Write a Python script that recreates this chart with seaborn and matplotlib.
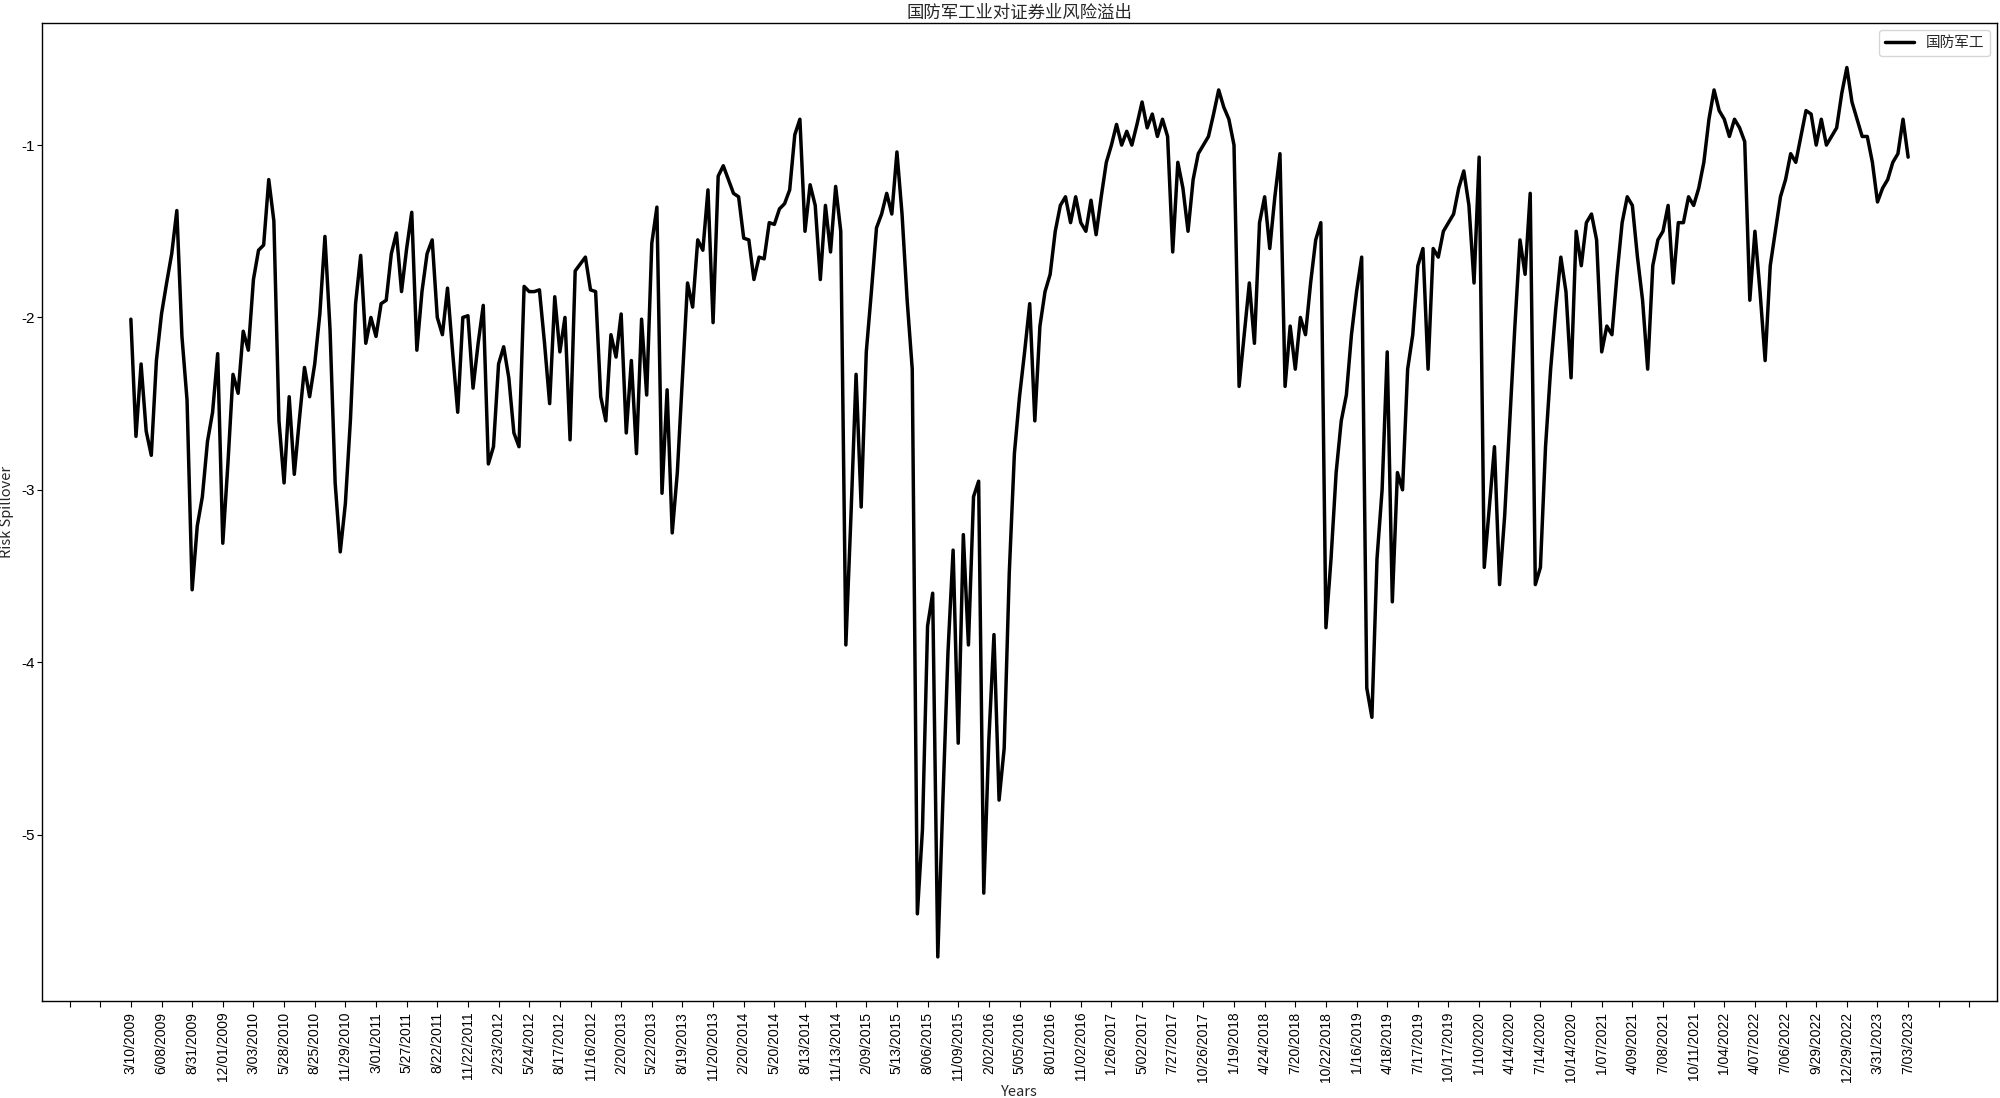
import matplotlib
matplotlib.use("Agg")
import numpy as np
import matplotlib.pyplot as plt
import seaborn as sns
from matplotlib.ticker import MultipleLocator, FuncFormatter

# one reading every 10 trading days, starting 3/10/2009
step = 10
spill = [
    -2.01, -2.69, -2.27, -2.66, -2.80, -2.25, -1.98, -1.80, -1.63, -1.38,
    -2.11, -2.48, -3.58, -3.21, -3.04, -2.72, -2.55, -2.21, -3.31, -2.85,
    -2.33, -2.44, -2.08, -2.19, -1.78, -1.61, -1.58, -1.20, -1.44, -2.60,
    -2.96, -2.46, -2.91, -2.59, -2.29, -2.46, -2.27, -1.98, -1.53, -2.07,
    -2.96, -3.36, -3.08, -2.59, -1.92, -1.64, -2.15, -2.00, -2.11, -1.92,
    -1.90, -1.63, -1.51, -1.85, -1.60, -1.39, -2.19, -1.85, -1.63, -1.55,
    -2.00, -2.10, -1.83, -2.20, -2.55, -2.00, -1.99, -2.41, -2.15, -1.93,
    -2.85, -2.75, -2.27, -2.17, -2.35, -2.67, -2.75, -1.82, -1.85, -1.85,
    -1.84, -2.15, -2.50, -1.88, -2.20, -2.00, -2.71, -1.73, -1.69, -1.65,
    -1.84, -1.85, -2.46, -2.60, -2.10, -2.23, -1.98, -2.67, -2.25, -2.79,
    -2.01, -2.45, -1.57, -1.36, -3.02, -2.42, -3.25, -2.90, -2.35, -1.80,
    -1.94, -1.55, -1.61, -1.26, -2.03, -1.18, -1.12, -1.20, -1.28, -1.30,
    -1.54, -1.55, -1.78, -1.65, -1.66, -1.45, -1.46, -1.37, -1.34, -1.26,
    -0.94, -0.85, -1.50, -1.23, -1.35, -1.78, -1.35, -1.62, -1.24, -1.50,
    -3.90, -3.15, -2.33, -3.10, -2.20, -1.85, -1.48, -1.40, -1.28, -1.40,
    -1.04, -1.40, -1.90, -2.30, -5.46, -4.97, -3.79, -3.60, -5.71, -4.80,
    -3.94, -3.35, -4.47, -3.26, -3.90, -3.04, -2.95, -5.34, -4.45, -3.84,
    -4.80, -4.50, -3.48, -2.79, -2.46, -2.20, -1.92, -2.60, -2.05, -1.85,
    -1.75, -1.50, -1.35, -1.30, -1.45, -1.30, -1.45, -1.50, -1.32, -1.52,
    -1.30, -1.10, -1.00, -0.88, -1.00, -0.92, -1.00, -0.88, -0.75, -0.90,
    -0.82, -0.95, -0.85, -0.95, -1.62, -1.10, -1.25, -1.50, -1.20, -1.05,
    -1.00, -0.95, -0.82, -0.68, -0.78, -0.85, -1.00, -2.40, -2.10, -1.80,
    -2.15, -1.45, -1.30, -1.60, -1.30, -1.05, -2.40, -2.05, -2.30, -2.00,
    -2.10, -1.80, -1.55, -1.45, -3.80, -3.40, -2.90, -2.60, -2.45, -2.10,
    -1.85, -1.65, -4.15, -4.32, -3.40, -3.00, -2.20, -3.65, -2.90, -3.00,
    -2.30, -2.10, -1.70, -1.60, -2.30, -1.60, -1.65, -1.50, -1.45, -1.40,
    -1.25, -1.15, -1.35, -1.80, -1.07, -3.45, -3.10, -2.75, -3.55, -3.15,
    -2.60, -2.05, -1.55, -1.75, -1.28, -3.55, -3.45, -2.75, -2.30, -1.95,
    -1.65, -1.85, -2.35, -1.50, -1.70, -1.45, -1.40, -1.55, -2.20, -2.05,
    -2.10, -1.75, -1.45, -1.30, -1.35, -1.65, -1.90, -2.30, -1.70, -1.55,
    -1.50, -1.35, -1.80, -1.45, -1.45, -1.30, -1.35, -1.25, -1.10, -0.85,
    -0.68, -0.80, -0.85, -0.95, -0.85, -0.90, -0.98, -1.90, -1.50, -1.85,
    -2.25, -1.70, -1.50, -1.30, -1.20, -1.05, -1.10, -0.95, -0.80, -0.82,
    -1.00, -0.85, -1.00, -0.95, -0.90, -0.70, -0.55, -0.75, -0.85, -0.95,
    -0.95, -1.10, -1.33, -1.25, -1.20, -1.10, -1.05, -0.85, -1.07,
]

# date labels, one every 60 trading days
tick_every = 60
date_labels = [
    "3/10/2009", "6/08/2009", "8/31/2009", "12/01/2009", "3/03/2010",
    "5/28/2010", "8/25/2010", "11/29/2010", "3/01/2011", "5/27/2011",
    "8/22/2011", "11/22/2011", "2/23/2012", "5/24/2012", "8/17/2012",
    "11/16/2012", "2/20/2013", "5/22/2013", "8/19/2013", "11/20/2013",
    "2/20/2014", "5/20/2014", "8/13/2014", "11/13/2014", "2/09/2015",
    "5/13/2015", "8/06/2015", "11/09/2015", "2/02/2016", "5/05/2016",
    "8/01/2016", "11/02/2016", "1/26/2017", "5/02/2017", "7/27/2017",
    "10/26/2017", "1/19/2018", "4/24/2018", "7/20/2018", "10/22/2018",
    "1/16/2019", "4/18/2019", "7/17/2019", "10/17/2019", "1/10/2020",
    "4/14/2020", "7/14/2020", "10/14/2020", "1/07/2021", "4/09/2021",
    "7/08/2021", "10/11/2021", "1/04/2022", "4/07/2022", "7/06/2022",
    "9/29/2022", "12/29/2022", "3/31/2023", "7/03/2023",
]

sns.set_style("ticks")
plt.rcParams['font.family'] = ['Liberation Sans', 'Noto Sans CJK SC', 'DejaVu Sans']
plt.rcParams['axes.unicode_minus'] = False
cjk = ['Noto Sans CJK SC', 'DejaVu Sans']

day = np.arange(len(spill)) * step

fig, ax = plt.subplots(figsize=(20, 10.98), dpi=100)
fig.subplots_adjust(left=0.021, right=0.9985, top=0.979, bottom=0.088)

sns.lineplot(x=day, y=spill, color='black', linewidth=2.5, label='国防军工', ax=ax)


def fmt_date(v, pos):
    k = int(round(v / tick_every))
    if abs(v - k * tick_every) < 1e-6 and 0 <= k < len(date_labels):
        return date_labels[k]
    return ''


ax.xaxis.set_major_locator(MultipleLocator(tick_every))
ax.xaxis.set_major_formatter(FuncFormatter(fmt_date))
ax.tick_params(axis='x', labelrotation=90, labelsize=10, colors='black', length=4)
ax.tick_params(axis='y', labelsize=11, colors='black', length=3.5, pad=1.5)
for sp in ax.spines.values():
    sp.set_color('black')
    sp.set_linewidth(1.0)

ax.set_title('国防军工业对证券业风险溢出', fontsize=12.5, family=cjk, pad=4)
ax.set_xlabel('Years', fontsize=10.5, family=cjk, labelpad=2)
ax.set_ylabel('Risk Spillover', fontsize=10.5, family=cjk)
ax.yaxis.set_label_coords(-0.0145, 0.5)
ax.legend(loc='upper right', prop={'family': cjk, 'size': 10.5})

plt.savefig('out.png', dpi=100)
